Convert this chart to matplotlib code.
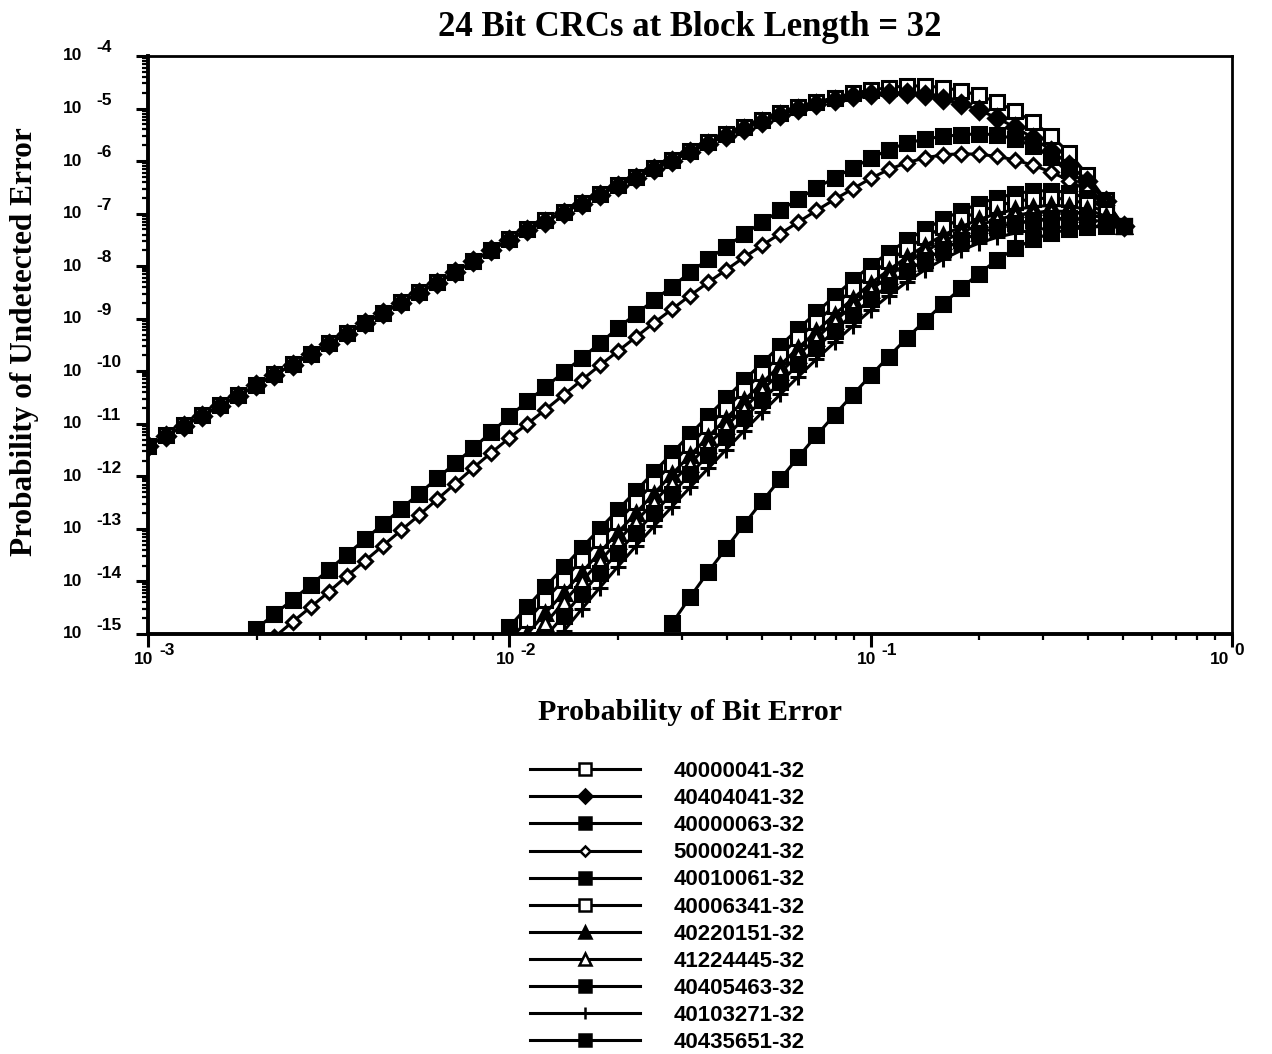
import matplotlib
matplotlib.use("Agg")
from matplotlib import pyplot as plt
from matplotlib.lines import Line2D
import matplotlib.ticker as mticker

# x grid: log10 of bit error probability (20 points per decade, 1e-3 .. 0.5)
log_p = [-3.00, -2.95, -2.90, -2.85, -2.80, -2.75, -2.70, -2.65, -2.60, -2.55,
         -2.50, -2.45, -2.40, -2.35, -2.30, -2.25, -2.20, -2.15, -2.10, -2.05,
         -2.00, -1.95, -1.90, -1.85, -1.80, -1.75, -1.70, -1.65, -1.60, -1.55,
         -1.50, -1.45, -1.40, -1.35, -1.30, -1.25, -1.20, -1.15, -1.10, -1.05,
         -1.00, -0.95, -0.90, -0.85, -0.80, -0.75, -0.70, -0.65, -0.60, -0.55,
         -0.50, -0.45, -0.40, -0.35, -0.30]

# log10 of undetected error probability, each list ends at p = 0.5
crc_40000041 = [-11.42, -11.22, -11.03, -10.84, -10.65, -10.46, -10.26, -10.06, -9.87, -9.67,
                -9.47, -9.28, -9.08, -8.89, -8.69, -8.50, -8.31, -8.11, -7.90, -7.69,
                -7.48, -7.30, -7.13, -6.96, -6.79, -6.62, -6.46, -6.30, -6.14, -5.97,
                -5.80, -5.64, -5.49, -5.35, -5.22, -5.09, -4.98, -4.88, -4.79, -4.71,
                -4.65, -4.60, -4.57, -4.57, -4.60, -4.66, -4.75, -4.88, -5.05, -5.26,
                -5.52, -5.85, -6.27, -6.74, -7.24]
crc_40404041 = [-11.43, -11.23, -11.04, -10.85, -10.66, -10.47, -10.27, -10.07, -9.88, -9.68,
                -9.48, -9.29, -9.09, -8.90, -8.70, -8.51, -8.32, -8.12, -7.91, -7.70,
                -7.50, -7.32, -7.15, -6.98, -6.81, -6.64, -6.48, -6.32, -6.16, -6.00,
                -5.83, -5.67, -5.52, -5.38, -5.25, -5.12, -5.01, -4.91, -4.83, -4.77,
                -4.73, -4.71, -4.71, -4.75, -4.82, -4.91, -5.03, -5.18, -5.36, -5.56,
                -5.80, -6.07, -6.38, -6.76, -7.24]
crc_40000063 = [-14.90, -14.62, -14.35, -14.07, -13.78, -13.49, -13.20, -12.91, -12.62, -12.33,
                -12.04, -11.75, -11.46, -11.16, -10.86, -10.57, -10.30, -10.02, -9.75, -9.47,
                -9.18, -8.91, -8.65, -8.39, -8.12, -7.87, -7.63, -7.39, -7.16, -6.94,
                -6.72, -6.51, -6.32, -6.13, -5.95, -5.78, -5.66, -5.58, -5.53, -5.50,
                -5.48, -5.50, -5.58, -5.72, -5.92, -6.17, -6.47, -6.83, -7.24]
crc_50000241 = [-15.06, -14.77, -14.49, -14.20, -13.90, -13.61, -13.32, -13.03, -12.74, -12.44,
                -12.14, -11.84, -11.55, -11.27, -11.00, -10.73, -10.45, -10.17, -9.89, -9.62,
                -9.35, -9.08, -8.82, -8.56, -8.31, -8.07, -7.83, -7.60, -7.38, -7.16,
                -6.94, -6.73, -6.53, -6.33, -6.16, -6.03, -5.94, -5.88, -5.86, -5.87,
                -5.91, -5.98, -6.08, -6.21, -6.37, -6.57, -6.84, -7.24]
crc_40010061 = [-14.86, -14.48, -14.10, -13.73, -13.36, -13.00, -12.64, -12.28, -11.92, -11.56,
                -11.20, -10.85, -10.51, -10.17, -9.84, -9.51, -9.19, -8.88, -8.57, -8.27,
                -7.99, -7.74, -7.51, -7.30, -7.11, -6.95, -6.81, -6.70, -6.62, -6.57,
                -6.56, -6.60, -6.71, -6.92, -7.24]
crc_40006341 = [-15.12, -14.74, -14.35, -13.97, -13.59, -13.22, -12.86, -12.49, -12.12, -11.76,
                -11.40, -11.05, -10.71, -10.36, -10.03, -9.70, -9.37, -9.06, -8.75, -8.44,
                -8.16, -7.90, -7.67, -7.45, -7.26, -7.10, -6.96, -6.85, -6.77, -6.72,
                -6.70, -6.73, -6.82, -6.98, -7.24]
crc_40220151 = [-15.00, -14.60, -14.22, -13.83, -13.45, -13.07, -12.70, -12.33, -11.96, -11.60,
                -11.25, -10.90, -10.55, -10.22, -9.88, -9.55, -9.24, -8.92, -8.62, -8.33,
                -8.07, -7.83, -7.61, -7.41, -7.25, -7.11, -7.00, -6.92, -6.87, -6.84,
                -6.86, -6.92, -7.05, -7.24]
crc_41224445 = [-15.20, -14.79, -14.40, -14.00, -13.62, -13.23, -12.86, -12.49, -12.12, -11.76,
                -11.40, -11.05, -10.70, -10.36, -10.02, -9.69, -9.37, -9.05, -8.75, -8.46,
                -8.19, -7.94, -7.72, -7.53, -7.36, -7.22, -7.11, -7.03, -6.98, -6.95,
                -6.96, -7.00, -7.10, -7.24]
crc_40405463 = [-15.05, -14.65, -14.24, -13.84, -13.45, -13.07, -12.70, -12.33, -11.96, -11.60,
                -11.25, -10.89, -10.55, -10.21, -9.87, -9.55, -9.23, -8.92, -8.63, -8.36,
                -8.10, -7.88, -7.68, -7.51, -7.37, -7.26, -7.18, -7.13, -7.09, -7.09,
                -7.11, -7.16, -7.24]
crc_40103271 = [-14.95, -14.53, -14.12, -13.72, -13.33, -12.95, -12.58, -12.21, -11.85, -11.49,
                -11.13, -10.78, -10.44, -10.10, -9.77, -9.45, -9.14, -8.84, -8.56, -8.30,
                -8.07, -7.87, -7.70, -7.56, -7.45, -7.37, -7.31, -7.27, -7.25, -7.24,
                -7.24, -7.24]
crc_40435651 = [-14.80, -14.30, -13.82, -13.37, -12.91, -12.47, -12.05, -11.63, -11.22, -10.83,
                -10.45, -10.08, -9.72, -9.37, -9.04, -8.72, -8.42, -8.14, -7.88, -7.66,
                -7.49, -7.37, -7.30, -7.26, -7.24, -7.24]

labels = ["40000041-32", "40404041-32", "40000063-32", "50000241-32", "40010061-32",
          "40006341-32", "40220151-32", "41224445-32", "40405463-32", "40103271-32",
          "40435651-32"]
series = [crc_40000041, crc_40404041, crc_40000063, crc_50000241, crc_40010061,
          crc_40006341, crc_40220151, crc_41224445, crc_40405463, crc_40103271,
          crc_40435651]

markers = ['s', 'D', 's', 'D', 's', 's', '^', '^', 's', '+', 's']
faces = ['white', 'black', 'black', 'white', 'black', 'white', 'black', 'white',
         'black', 'black', 'black']
msizes = [10, 9, 10.5, 7, 10, 10, 10.5, 10.5, 10, 11, 10.5]

sans = 'Liberation Sans'
serif = 'Liberation Serif'

fig = plt.figure(figsize=(12.72, 10.54), dpi=100)
ax = fig.add_axes([148/1272, 1-634/1054, (1232-148)/1272, (634-56)/1054])

for vals, lab, m, fc, ms in zip(series, labels, markers, faces, msizes):
    xs = [10.0**v for v in log_p[-len(vals):]]
    ys = [10.0**v for v in vals]
    ax.plot(xs, ys, color='black', lw=2.2, marker=m, markersize=ms,
            markerfacecolor=fc, markeredgecolor='black', markeredgewidth=2.2,
            label=lab)

ax.set_xscale('log')
ax.set_yscale('log')
ax.set_xlim(1e-3, 1.0)
ax.set_ylim(1e-15, 1e-4)

ax.xaxis.set_major_locator(mticker.LogLocator(base=10, numticks=10))
ax.yaxis.set_major_locator(mticker.LogLocator(base=10, numticks=20))
ax.xaxis.set_minor_locator(mticker.LogLocator(base=10, subs=range(2, 10), numticks=20))
ax.yaxis.set_minor_locator(mticker.LogLocator(base=10, subs=range(2, 10), numticks=40))
ax.xaxis.set_major_formatter(mticker.NullFormatter())
ax.yaxis.set_major_formatter(mticker.NullFormatter())
ax.xaxis.set_minor_formatter(mticker.NullFormatter())
ax.yaxis.set_minor_formatter(mticker.NullFormatter())
ax.tick_params(which='major', direction='out', length=9, width=2.2)
ax.tick_params(which='minor', direction='out', length=4, width=1.6)
ax.tick_params(top=False, right=False)

for s in ['bottom', 'left']:
    ax.spines[s].set_linewidth(2.8)
for s in ['top', 'right']:
    ax.spines[s].set_linewidth(2.0)

# tick labels drawn as "10" plus a raised exponent
tfont = dict(family=sans, weight='bold', fontsize=12.5)
for e in range(-15, -3):
    ax.annotate('10', xy=(0, 10.0**e), xycoords=('axes fraction', 'data'),
                xytext=(-47, 0), textcoords='offset points', ha='right', va='center', **tfont)
    ax.annotate(str(e), xy=(0, 10.0**e), xycoords=('axes fraction', 'data'),
                xytext=(-37, 6), textcoords='offset points', ha='left', va='center', **tfont)
for e in [-3, -2, -1, 0]:
    dx = 4 if e < 0 else -2
    ax.annotate('10', xy=(10.0**e, 0), xycoords=('data', 'axes fraction'),
                xytext=(dx, -18), textcoords='offset points', ha='right', va='center', **tfont)
    ax.annotate(str(e), xy=(10.0**e, 0), xycoords=('data', 'axes fraction'),
                xytext=(dx + 4, -12), textcoords='offset points', ha='left', va='center', **tfont)

fig.text(690/1272, 1-27/1054, '24 Bit CRCs at Block Length = 32', family=serif,
         fontsize=25, weight='bold', ha='center', va='center')
fig.text(690/1272, 1-712/1054, 'Probability of Bit Error', family=serif,
         fontsize=21.5, weight='bold', ha='center', va='center')
fig.text(25/1272, 1-342/1054, 'Probability of Undetected Error', family=serif,
         fontsize=22.5, weight='bold', ha='center', va='center', rotation=90)

leg_handles = [Line2D([0], [0], color='black', lw=2.2, marker=m, markersize=ms * 0.8,
                      markerfacecolor=fc, markeredgecolor='black', markeredgewidth=1.8)
               for m, fc, ms in zip(markers, faces, msizes)]
fig.legend(leg_handles, labels, loc='upper left', bbox_to_anchor=(530/1272, 1-761/1054),
           frameon=False, borderpad=0, borderaxespad=0, numpoints=1,
           handlelength=4.95, handletextpad=1.5, labelspacing=0.275,
           prop=dict(family=sans, weight='bold', size=16))

fig.savefig('out.png', dpi=100)
